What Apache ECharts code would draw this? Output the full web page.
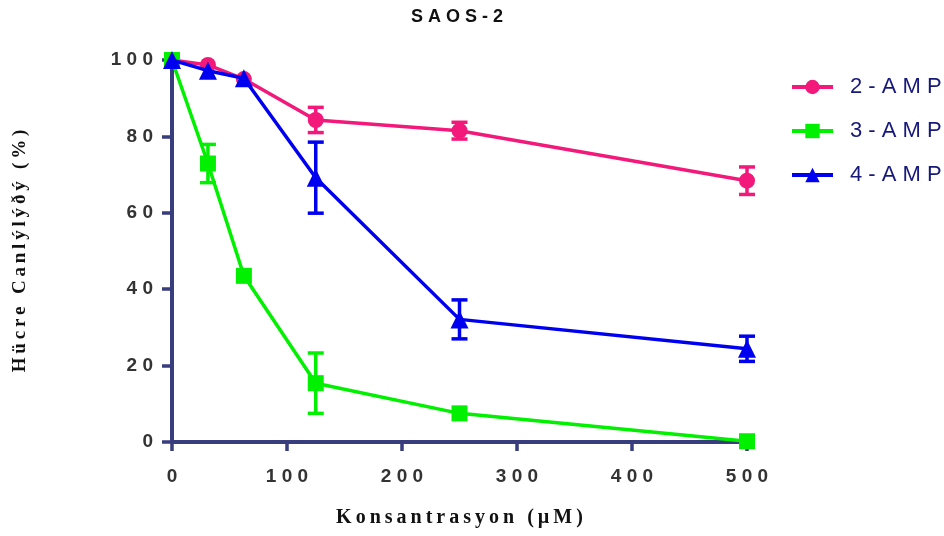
<!DOCTYPE html>
<html><head><meta charset="utf-8">
<script src="https://cdn.jsdelivr.net/npm/echarts@6/dist/echarts.min.js"></script>
<style>html,body{margin:0;padding:0;background:#fff}#c{width:944px;height:536px}</style>
</head><body><div id="c"></div>
<script>
const concentrations = [0, 31.25, 62.5, 125, 250, 500];
const seriesNames = ['2-AMP', '3-AMP', '4-AMP'];
const amp2 = [100, 98.7, 95.0, 84.3, 81.5, 68.4];
const amp2Err = [0, 0, 0, 3.3, 2.2, 3.6];
const amp3 = [100, 72.9, 43.5, 15.4, 7.5, 0.2];
const amp3Err = [0, 5.0, 0, 7.9, 0, 0];
const amp4 = [100, 97.2, 95.2, 69.2, 32.1, 24.4];
const amp4Err = [0, 0, 0, 9.3, 5.1, 3.3];
const xTicks = [0, 100, 200, 300, 400, 500];
const yTicks = [0, 20, 40, 60, 80, 100];

const colors = ['#F2197B', '#00F000', '#0000F0'];
const symbols = ['circle', 'rect', 'triangle'];
const values = [amp2, amp3, amp4];
const errs = [amp2Err, amp3Err, amp4Err];
const axisColor = '#383D7E';
const spacedWide = s => String(s).split('').join(' ');
const spacedThin = s => String(s).split(' ').map(w => w.split('').join('\u2009')).join('\u2009 \u2009');

const series = [];
values.forEach((vals, i) => {
  series.push({
    name: seriesNames[i], type: 'line',
    data: concentrations.map((x, k) => [x, vals[k]]),
    symbol: symbols[i], symbolSize: i === 2 ? 18 : 16,
    lineStyle: { color: colors[i], width: 3.5 },
    itemStyle: { color: colors[i] },
    z: 2 + i * 2, animation: false
  });
  series.push({
    name: seriesNames[i] + ' err', type: 'custom',
    data: concentrations.map((x, k) => [x, vals[k], errs[i][k]]),
    z: 3 + i * 2, animation: false, silent: true,
    renderItem: (params, api) => {
      const x = api.value(0), y = api.value(1), e = api.value(2);
      if (!e) return null;
      const top = api.coord([x, y + e]);
      const bot = api.coord([x, y - e]);
      const hw = 8;
      const st = { stroke: colors[i], lineWidth: 3.5 };
      return { type: 'group', children: [
        { type: 'line', shape: { x1: top[0], y1: top[1], x2: bot[0], y2: bot[1] }, style: st },
        { type: 'line', shape: { x1: top[0] - hw, y1: top[1], x2: top[0] + hw, y2: top[1] }, style: st },
        { type: 'line', shape: { x1: bot[0] - hw, y1: bot[1], x2: bot[0] + hw, y2: bot[1] }, style: st }
      ]};
    }
  });
});

const chart = echarts.init(document.getElementById('c'));
chart.setOption({
  backgroundColor: '#fff',
  animation: false,
  title: {
    text: 'S A O S - 2', left: 406, top: 3,
    textStyle: { fontFamily: 'Liberation Sans, Arial', fontWeight: 'bold', fontSize: 18, color: '#111' }
  },
  legend: {
    orient: 'vertical', left: 785, top: 71, itemGap: 22,
    itemWidth: 41, itemHeight: 18,
    data: seriesNames,
    lineStyle: { width: 4 },
    formatter: n => spacedWide(n),
    textStyle: { fontFamily: 'Liberation Sans, Arial', fontSize: 22, color: '#16187A', padding: [0, 0, 0, 12] }
  },
  grid: { left: 172, right: 197, top: 60, bottom: 94 },
  xAxis: {
    type: 'value', min: 0, max: 500, interval: 100,
    name: spacedThin('Konsantrasyon (µM)'), nameLocation: 'middle', nameGap: 66,
    nameTextStyle: { fontFamily: 'Liberation Serif, Times New Roman', fontWeight: 'bold', fontSize: 20, color: '#111' },
    axisLine: { show: true, onZero: false, lineStyle: { color: axisColor, width: 4 } },
    axisTick: { show: true, length: 9, lineStyle: { color: axisColor, width: 3.5 } },
    axisLabel: { margin: 25, formatter: v => spacedWide(v), fontFamily: 'Liberation Sans, Arial', fontWeight: 'bold', fontSize: 19, color: '#333' },
    splitLine: { show: false }
  },
  yAxis: {
    type: 'value', min: 0, max: 100, interval: 20,
    name: spacedThin('Hücre Canlýlýðý (%)'), nameLocation: 'middle', nameGap: 142, nameRotate: 90,
    nameTextStyle: { fontFamily: 'Liberation Serif, Times New Roman', fontWeight: 'bold', fontSize: 19, color: '#111' },
    axisLine: { show: true, lineStyle: { color: axisColor, width: 4 } },
    axisTick: { show: true, length: 10, lineStyle: { color: axisColor, width: 3.5 } },
    axisLabel: { margin: 19, formatter: v => spacedWide(v), fontFamily: 'Liberation Sans, Arial', fontWeight: 'bold', fontSize: 19, color: '#333' },
    splitLine: { show: false }
  },
  series: series
});
</script></body></html>
